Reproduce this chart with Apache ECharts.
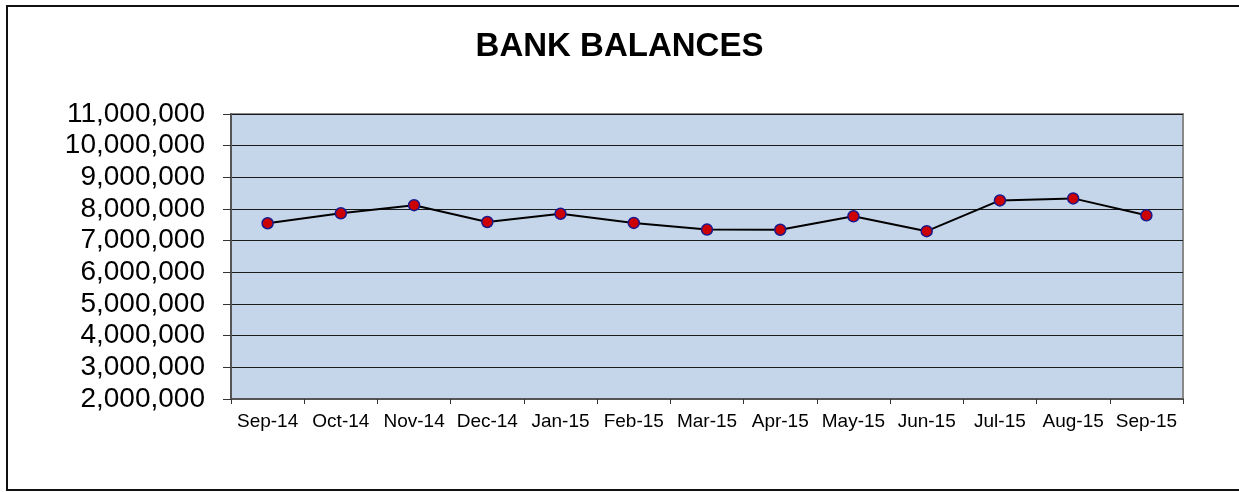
<!DOCTYPE html>
<html>
<head>
<meta charset="utf-8">
<script src="https://cdn.jsdelivr.net/npm/echarts@6/dist/echarts.min.js"></script>
<style>
html,body{margin:0;padding:0;background:#fff;}
#chart{width:1239px;height:492px;}
</style>
</head>
<body>
<div id="chart"></div>
<script>
const chartTitle = 'BANK BALANCES';
const categories = ['Sep-14','Oct-14','Nov-14','Dec-14','Jan-15','Feb-15','Mar-15','Apr-15','May-15','Jun-15','Jul-15','Aug-15','Sep-15'];
const balances = [7550000, 7865000, 8120000, 7590000, 7850000, 7560000, 7350000, 7345000, 7770000, 7300000, 8270000, 8335000, 7800000];
const yMin = 2000000, yMax = 11000000, yStep = 1000000;

const chart = echarts.init(document.getElementById('chart'), null, {renderer: 'canvas'});
chart.setOption({
  backgroundColor: '#ffffff',
  animation: false,
  title: {
    text: chartTitle,
    left: 'center',
    top: 25,
    textStyle: {fontFamily: 'Liberation Sans, Arial, sans-serif', fontSize: 33, fontWeight: 'bold', color: '#000'}
  },
  graphic: [{
    type: 'rect',
    shape: {x: 7, y: 6, width: 1250, height: 484},
    style: {fill: 'none', stroke: '#111', lineWidth: 2},
    silent: true
  }],
  grid: {
    left: 231, top: 114, right: 56, bottom: 93,
    show: true,
    backgroundColor: '#c5d5ea',
    borderColor: '#8a8a8a',
    borderWidth: 2
  },
  xAxis: {
    type: 'category',
    data: categories,
    boundaryGap: true,
    axisLine: {show: true, lineStyle: {color: '#555', width: 2}},
    axisTick: {show: true, length: 5, lineStyle: {color: '#333', width: 1}},
    axisLabel: {fontFamily: 'Liberation Sans, Arial, sans-serif', fontSize: 19, color: '#000', margin: 13, interval: 0},
    splitLine: {show: false}
  },
  yAxis: {
    type: 'value',
    min: yMin, max: yMax, interval: yStep,
    axisLine: {show: true, lineStyle: {color: '#555', width: 2}},
    axisTick: {show: true, length: 8, lineStyle: {color: '#333', width: 1}},
    axisLabel: {
      fontFamily: 'Liberation Sans, Arial, sans-serif', fontSize: 28, color: '#000', margin: 26,
      formatter: v => v.toLocaleString('en-US')
    },
    splitLine: {show: true, lineStyle: {color: '#1a1a1a', width: 1}}
  },
  series: [{
    type: 'line',
    data: balances,
    symbol: 'circle',
    symbolSize: 11,
    lineStyle: {color: '#000', width: 2},
    itemStyle: {color: '#cc0000', borderColor: '#1a1a8c', borderWidth: 1.5},
    z: 3
  }]
});
</script>
</body>
</html>
